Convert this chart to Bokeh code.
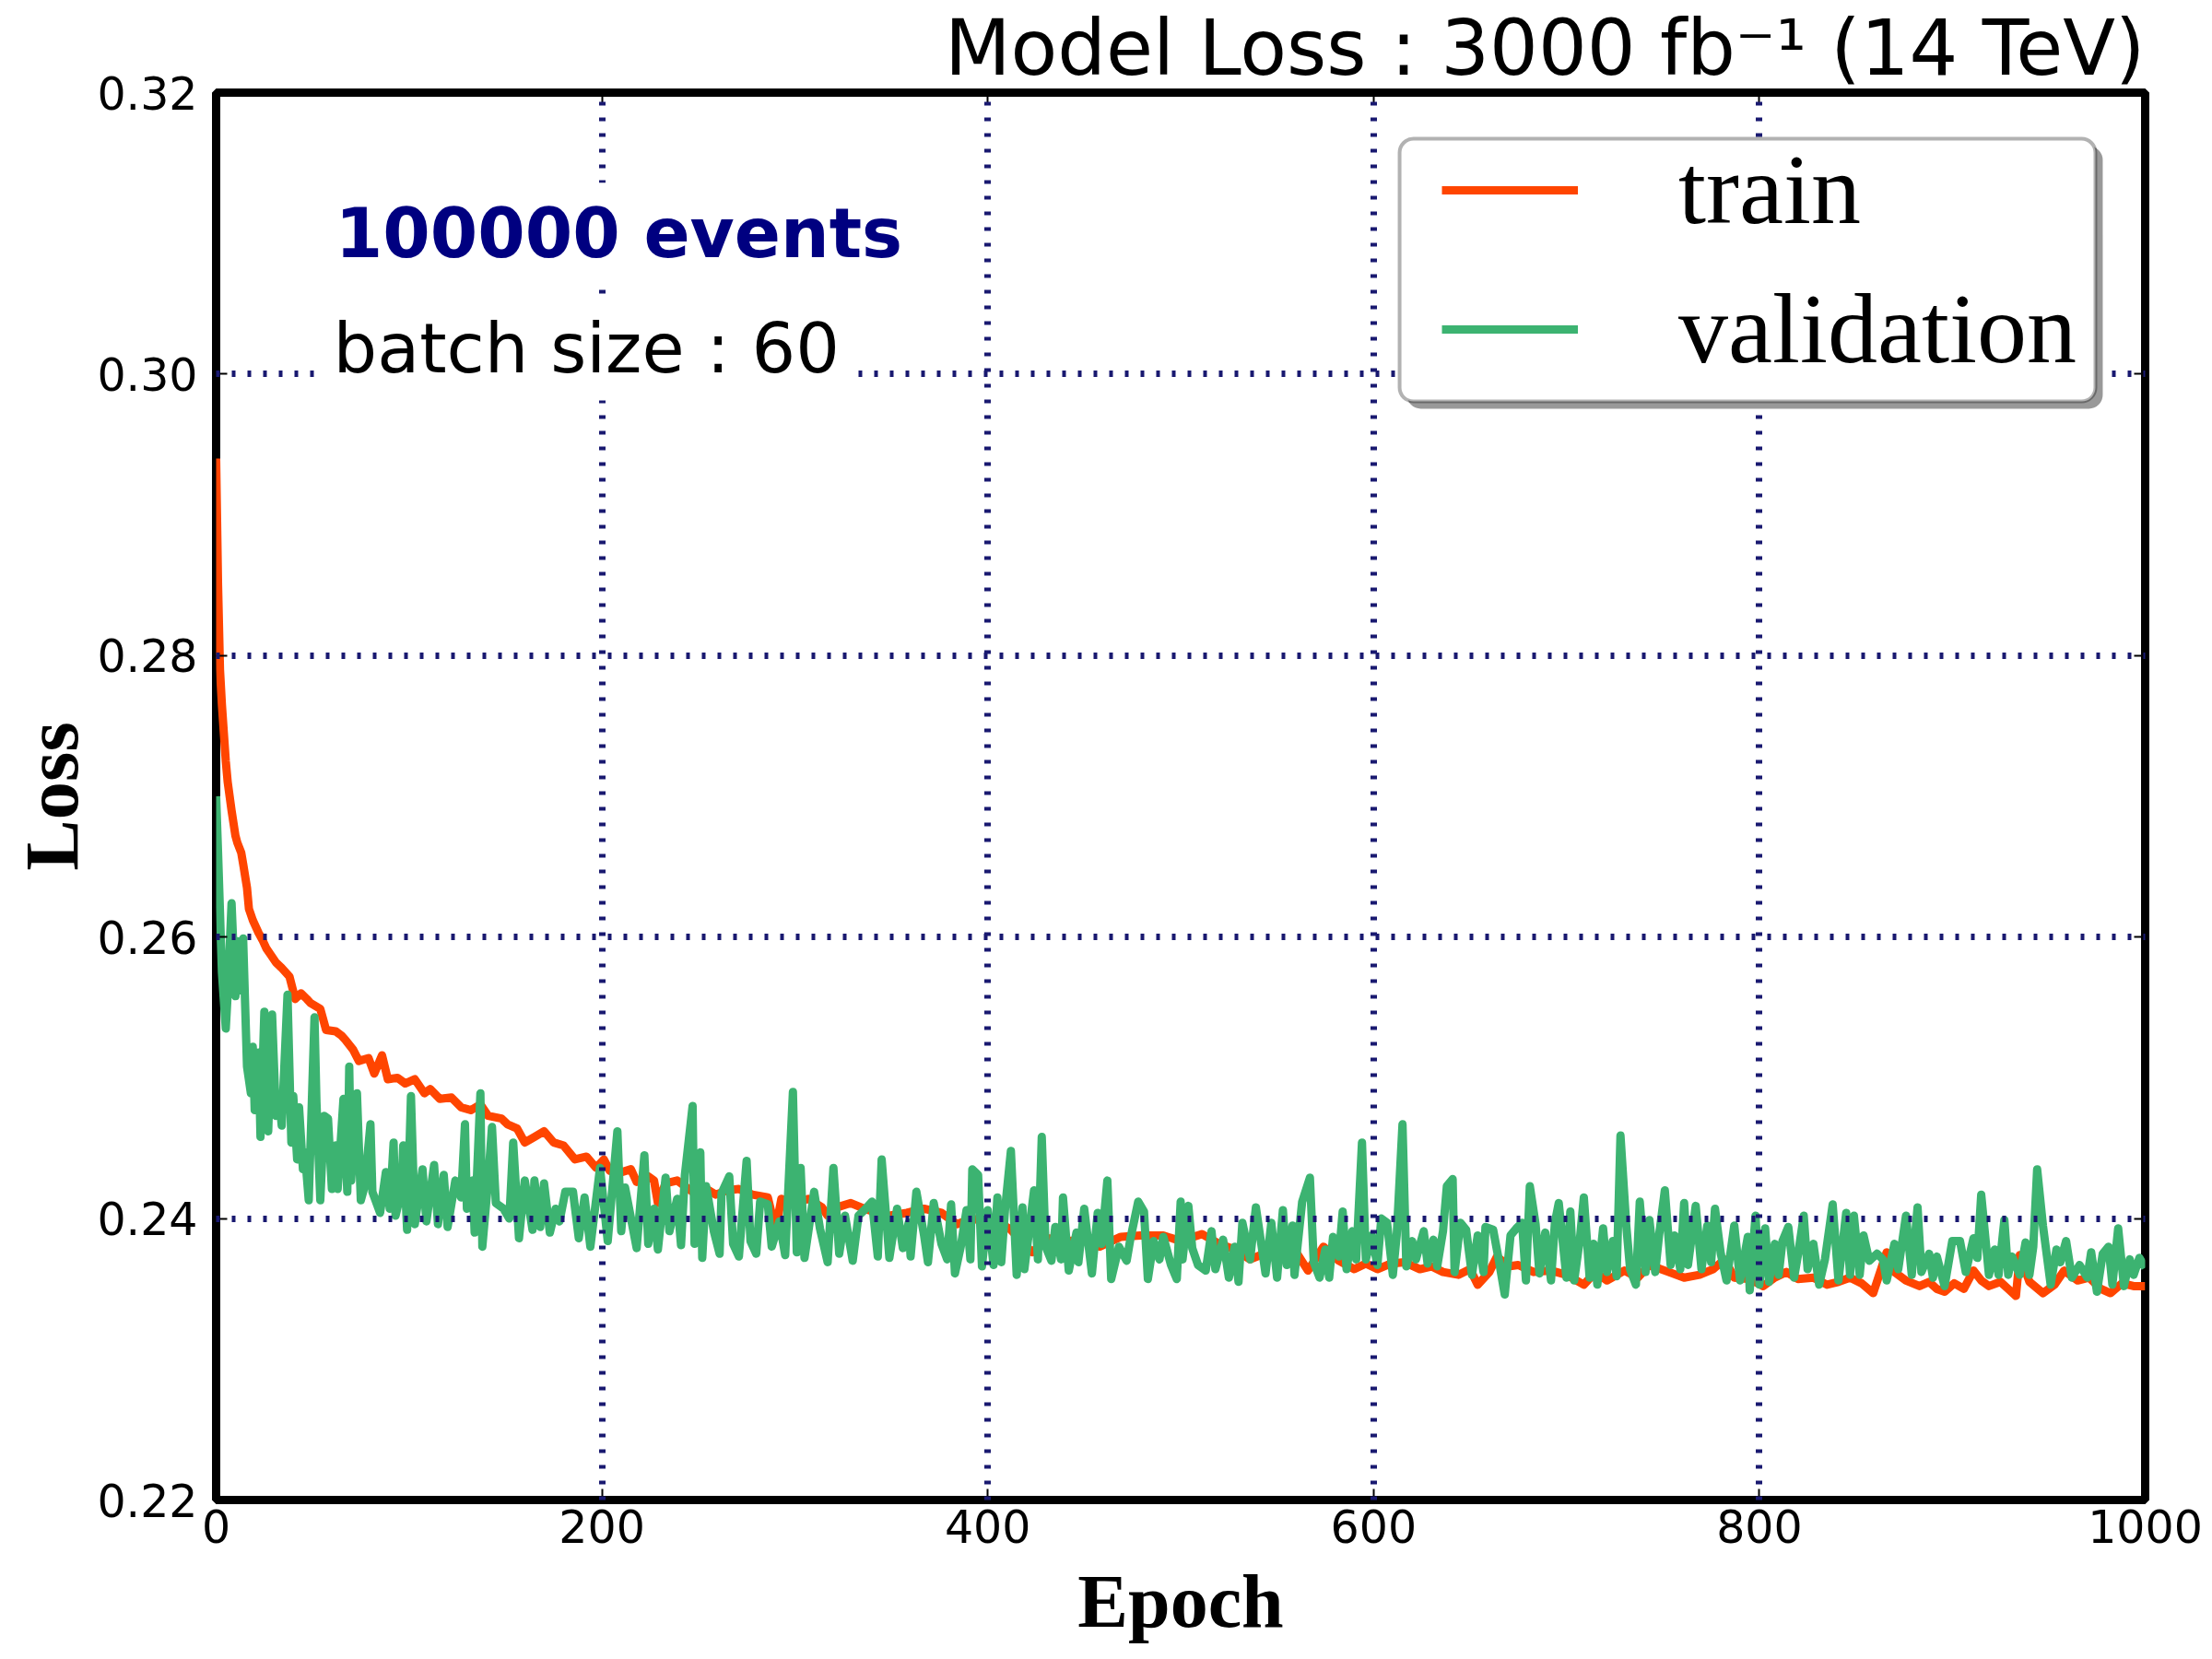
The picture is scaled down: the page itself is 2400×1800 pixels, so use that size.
from bokeh.plotting import figure
from bokeh.models import (FixedTicker, PrintfTickFormatter, LinearAxis, Label,
                          Legend, LegendItem, BoxAnnotation, CustomLabelingPolicy)
from bokeh.embed import file_html
from bokeh.resources import INLINE

# ---------------- data ----------------
train_epoch = [0, 1, 2, 3, 4, 5, 6, 8, 10, 11, 13, 14, 16, 17, 19, 22, 24, 26, 28, 31,
               34, 38, 41, 44, 47, 49, 54, 57, 62, 65, 67, 71, 74, 79, 82, 86, 89, 94, 98, 103,
               108, 111, 116, 122, 127, 132, 137, 141, 148, 151, 156, 160, 165, 170, 175, 180, 186, 192, 197, 201,
               204, 208, 215, 218, 224, 227, 229, 233, 239, 247, 253, 259, 265, 271, 278, 286, 290, 293, 300, 307,
               314, 317, 322, 329, 336, 343, 349, 358, 367, 376, 384, 392, 398, 404, 412, 423, 431, 442, 450, 458,
               469, 479, 491, 500, 511, 520, 528, 536, 545, 552, 559, 566, 574, 582, 590, 596, 602, 609, 616, 624,
               630, 636, 644, 650, 654, 660, 664, 670, 675, 683, 692, 700, 709, 715, 721, 730, 737, 743, 753, 761,
               769, 776, 782, 787, 795, 802, 808, 814, 820, 828, 835, 841, 847, 853, 859, 866, 870, 876, 883, 888,
               892, 896, 901, 906, 911, 915, 919, 925, 929, 933, 935, 940, 947, 953, 958, 965, 971, 977, 982, 988,
               994, 1000]
train_loss = [0.2940, 0.2850, 0.2790, 0.2765, 0.2745, 0.2725, 0.2710, 0.2690, 0.2672, 0.2667,
              0.2660, 0.2652, 0.2635, 0.2620, 0.2612, 0.2603, 0.2598, 0.2592, 0.2588, 0.2582,
              0.2578, 0.2572, 0.2556, 0.2560, 0.2556, 0.2553, 0.2549, 0.2534, 0.2533, 0.2530,
              0.2527, 0.2520, 0.2512, 0.2514, 0.2503, 0.2516, 0.2499, 0.2500, 0.2496, 0.2499,
              0.2489, 0.2492, 0.2485, 0.2486, 0.2479, 0.2477, 0.2481, 0.2473, 0.2471, 0.2467,
              0.2464, 0.2454, 0.2458, 0.2462, 0.2454, 0.2452, 0.2442, 0.2444, 0.2436, 0.2442,
              0.2434, 0.2432, 0.2435, 0.2426, 0.2430, 0.2427, 0.2411, 0.2425, 0.2427, 0.2419,
              0.2422, 0.2417, 0.2420, 0.2421, 0.2417, 0.2415, 0.2392, 0.2414, 0.2411, 0.2414,
              0.2408, 0.2402, 0.2408, 0.2411, 0.2407, 0.2404, 0.2402, 0.2404, 0.2407, 0.2404,
              0.2396, 0.2400, 0.2398, 0.2399, 0.2392, 0.2376, 0.2386, 0.2384, 0.2385, 0.2380,
              0.2387, 0.2388, 0.2388, 0.2384, 0.2389, 0.2382, 0.2378, 0.2371, 0.2376, 0.2374,
              0.2378, 0.2363, 0.2380, 0.2370, 0.2364, 0.2368, 0.2364, 0.2368, 0.2369, 0.2364,
              0.2366, 0.2362, 0.2360, 0.2364, 0.2353, 0.2362, 0.2373, 0.2366, 0.2367, 0.2362,
              0.2363, 0.2360, 0.2353, 0.2362, 0.2356, 0.2363, 0.2358, 0.2367, 0.2362, 0.2358,
              0.2360, 0.2364, 0.2371, 0.2358, 0.2357, 0.2352, 0.2358, 0.2362, 0.2357, 0.2358,
              0.2353, 0.2355, 0.2358, 0.2354, 0.2347, 0.2376, 0.2362, 0.2356, 0.2352, 0.2355,
              0.2350, 0.2348, 0.2354, 0.2350, 0.2363, 0.2356, 0.2352, 0.2355, 0.2350, 0.2345,
              0.2374, 0.2355, 0.2347, 0.2353, 0.2363, 0.2356, 0.2358, 0.2350, 0.2347, 0.2354,
              0.2352, 0.2352]

val_epoch = [0, 1, 3, 5, 6, 8, 10, 11, 13, 14, 16, 18, 19, 20, 22, 23, 25, 27, 29, 31,
             33, 34, 37, 39, 40, 42, 43, 45, 46, 48, 51, 52, 54, 56, 58, 60, 62, 63, 66, 68,
             69, 70, 73, 75, 77, 80, 81, 85, 88, 90, 92, 93, 96, 97, 99, 101, 103, 107, 109, 113,
             115, 118, 120, 124, 127, 129, 130, 133, 134, 137, 138, 141, 143, 145, 149, 152, 154, 157, 160, 164,
             165, 168, 170, 173, 176, 178, 181, 185, 188, 191, 194, 199, 203, 208, 210, 212, 218, 222, 224, 227,
             229, 233, 235, 239, 241, 243, 247, 248, 251, 252, 254, 258, 261, 262, 266, 268, 271, 275, 277, 280,
             282, 286, 288, 292, 295, 299, 301, 303, 305, 310, 313, 317, 320, 323, 326, 330, 333, 336, 340, 343,
             345, 349, 353, 356, 359, 360, 363, 367, 369, 372, 376, 379, 381, 383, 386, 389, 391, 392, 395, 397,
             400, 403, 405, 407, 409, 412, 415, 418, 419, 424, 426, 428, 430, 433, 435, 438, 439, 442, 446, 447,
             450, 454, 457, 459, 462, 464, 468, 472, 474, 478, 481, 483, 486, 489, 491, 495, 498, 500, 501, 504,
             506, 509, 513, 516, 518, 522, 525, 528, 530, 532, 536, 539, 542, 544, 547, 550, 553, 555, 558, 559,
             563, 567, 569, 572, 575, 577, 579, 582, 584, 586, 589, 591, 594, 596, 599, 602, 604, 607, 610, 612,
             615, 617, 620, 622, 626, 628, 631, 633, 636, 638, 641, 642, 645, 648, 651, 654, 657, 658, 662, 665,
             668, 671, 674, 677, 679, 681, 684, 686, 689, 692, 694, 696, 700, 702, 704, 707, 709, 712, 714, 716,
             719, 721, 724, 726, 728, 731, 733, 736, 738, 741, 743, 746, 748, 751, 754, 756, 759, 761, 763, 767,
             770, 773, 775, 777, 780, 783, 787, 790, 794, 795, 798, 800, 803, 805, 808, 810, 812, 815, 818, 820,
             823, 825, 828, 831, 834, 838, 841, 845, 847, 849, 852, 854, 857, 861, 864, 866, 870, 872, 876, 879,
             882, 884, 888, 890, 892, 896, 900, 904, 907, 911, 913, 915, 919, 922, 924, 927, 929, 931, 935, 938,
             940, 942, 944, 947, 951, 954, 956, 959, 962, 966, 970, 972, 975, 978, 981, 983, 986, 989, 992, 994,
             997, 1000]
val_loss = [0.2700, 0.2660, 0.2575, 0.2535, 0.2560, 0.2624, 0.2558, 0.2597, 0.2562, 0.2599,
            0.2508, 0.2489, 0.2522, 0.2477, 0.2518, 0.2458, 0.2547, 0.2462, 0.2545, 0.2473,
            0.2481, 0.2466, 0.2559, 0.2454, 0.2487, 0.2442, 0.2479, 0.2435, 0.2447, 0.2413,
            0.2543, 0.2483, 0.2413, 0.2473, 0.2471, 0.2421, 0.2452, 0.2421, 0.2485, 0.2419,
            0.2508, 0.2427, 0.2489, 0.2413, 0.2423, 0.2467, 0.2419, 0.2404, 0.2433, 0.2407,
            0.2454, 0.2402, 0.2419, 0.2452, 0.2392, 0.2487, 0.2396, 0.2435, 0.2398, 0.2438,
            0.2396, 0.2431, 0.2394, 0.2427, 0.2415, 0.2467, 0.2407, 0.2427, 0.2390, 0.2489,
            0.2380, 0.2427, 0.2465, 0.2411, 0.2407, 0.2400, 0.2454, 0.2386, 0.2427, 0.2392,
            0.2427, 0.2394, 0.2425, 0.2390, 0.2407, 0.2398, 0.2419, 0.2419, 0.2386, 0.2415,
            0.2380, 0.2436, 0.2384, 0.2462, 0.2391, 0.2422, 0.2379, 0.2445, 0.2382, 0.2407,
            0.2378, 0.2429, 0.2391, 0.2414, 0.2381, 0.2431, 0.2480, 0.2382, 0.2447, 0.2372,
            0.2423, 0.2391, 0.2375, 0.2418, 0.2430, 0.2382, 0.2373, 0.2441, 0.2384, 0.2375,
            0.2412, 0.2410, 0.2380, 0.2398, 0.2374, 0.2490, 0.2376, 0.2436, 0.2372, 0.2419,
            0.2393, 0.2369, 0.2436, 0.2375, 0.2402, 0.2370, 0.2402, 0.2406, 0.2412, 0.2373,
            0.2442, 0.2372, 0.2407, 0.2379, 0.2397, 0.2373, 0.2419, 0.2388, 0.2369, 0.2411,
            0.2382, 0.2371, 0.2410, 0.2361, 0.2380, 0.2406, 0.2371, 0.2435, 0.2431, 0.2366,
            0.2406, 0.2367, 0.2415, 0.2369, 0.2407, 0.2448, 0.2360, 0.2408, 0.2364, 0.2420,
            0.2371, 0.2458, 0.2380, 0.2370, 0.2394, 0.2371, 0.2415, 0.2363, 0.2390, 0.2369,
            0.2407, 0.2361, 0.2404, 0.2382, 0.2427, 0.2357, 0.2380, 0.2370, 0.2386, 0.2412,
            0.2405, 0.2357, 0.2384, 0.2371, 0.2387, 0.2367, 0.2357, 0.2412, 0.2371, 0.2409,
            0.2379, 0.2367, 0.2363, 0.2391, 0.2364, 0.2385, 0.2358, 0.2380, 0.2355, 0.2397,
            0.2371, 0.2408, 0.2380, 0.2361, 0.2397, 0.2358, 0.2406, 0.2367, 0.2395, 0.2360,
            0.2412, 0.2429, 0.2369, 0.2358, 0.2378, 0.2358, 0.2387, 0.2373, 0.2405, 0.2364,
            0.2391, 0.2371, 0.2454, 0.2371, 0.2388, 0.2367, 0.2400, 0.2397, 0.2360, 0.2388,
            0.2467, 0.2366, 0.2384, 0.2371, 0.2391, 0.2368, 0.2385, 0.2366, 0.2391, 0.2423,
            0.2428, 0.2362, 0.2397, 0.2392, 0.2360, 0.2388, 0.2362, 0.2394, 0.2392, 0.2370,
            0.2346, 0.2388, 0.2393, 0.2397, 0.2356, 0.2423, 0.2396, 0.2361, 0.2390, 0.2356,
            0.2397, 0.2411, 0.2358, 0.2405, 0.2356, 0.2386, 0.2415, 0.2358, 0.2382, 0.2353,
            0.2393, 0.2362, 0.2384, 0.2359, 0.2459, 0.2395, 0.2364, 0.2353, 0.2412, 0.2362,
            0.2399, 0.2362, 0.2388, 0.2420, 0.2367, 0.2388, 0.2364, 0.2411, 0.2367, 0.2409,
            0.2364, 0.2395, 0.2369, 0.2407, 0.2375, 0.2356, 0.2395, 0.2356, 0.2387, 0.2349,
            0.2402, 0.2353, 0.2393, 0.2355, 0.2382, 0.2360, 0.2384, 0.2394, 0.2358, 0.2374,
            0.2402, 0.2364, 0.2382, 0.2353, 0.2371, 0.2410, 0.2356, 0.2404, 0.2360, 0.2402,
            0.2360, 0.2388, 0.2370, 0.2375, 0.2371, 0.2356, 0.2382, 0.2364, 0.2402, 0.2360,
            0.2408, 0.2362, 0.2375, 0.2358, 0.2373, 0.2352, 0.2384, 0.2384, 0.2362, 0.2386,
            0.2372, 0.2417, 0.2360, 0.2378, 0.2360, 0.2399, 0.2360, 0.2373, 0.2360, 0.2383,
            0.2360, 0.2380, 0.2435, 0.2395, 0.2353, 0.2378, 0.2369, 0.2384, 0.2358, 0.2367,
            0.2358, 0.2376, 0.2348, 0.2375, 0.2380, 0.2353, 0.2393, 0.2352, 0.2371, 0.2360,
            0.2372, 0.2365]

x_ticks = [0, 200, 400, 600, 800, 1000]
y_ticks = [0.22, 0.24, 0.26, 0.28, 0.30, 0.32]
series_labels = ["train", "validation"]
series_colors = ["#FF4500", "#3CB371"]
title_text = "Model Loss : 3000 fb\u207b\u00b9 (14 TeV)"
note_bold = "100000 events"
note_plain = "batch size : 60"
x_label = "Epoch"
y_label = "Loss"

# ---------------- figure ----------------
p = figure(frame_width=2093, frame_height=1527,
           min_border_left=234, min_border_right=65,
           min_border_top=100, min_border_bottom=170,
           x_range=(0, 1000), y_range=(0.22, 0.32),
           output_backend="svg", toolbar_location=None,
           background_fill_color="white", border_fill_color="white")

p.outline_line_color = "black"
p.outline_line_width = 9

# title
p.title.text = title_text
p.title.align = "right"
p.title.text_font = "DejaVu Sans"
p.title.text_font_style = "normal"
p.title.text_font_size = "83px"
p.title.text_color = "black"
p.title.standoff = 0

tick_font = "DejaVu Sans"
hide_labels = CustomLabelingPolicy(
    code="for (let i = 0; i < indices.size; i++) { indices.unset(i) }\nreturn indices")


def style_axis(ax, ticks, show_labels, standoff):
    ax.ticker = FixedTicker(ticks=ticks)
    ax.axis_line_color = None
    ax.major_tick_in = 12
    ax.major_tick_out = 0
    ax.major_tick_line_width = 2
    ax.major_tick_line_color = "black"
    ax.minor_tick_line_color = None
    ax.major_label_text_font = tick_font
    ax.major_label_text_color = "black"
    if show_labels:
        ax.major_label_text_font_size = "49px"
        ax.major_label_standoff = standoff
    else:
        ax.major_label_text_font_size = "0px"
        ax.major_label_standoff = 0
        ax.major_label_policy = hide_labels


xa = p.xaxis[0]
ya = p.yaxis[0]
style_axis(xa, x_ticks, True, 10)
style_axis(ya, y_ticks, True, 20)
ya.formatter = PrintfTickFormatter(format="%.2f")

xa.axis_label = x_label
xa.axis_label_text_font = "Liberation Serif"
xa.axis_label_text_font_style = "bold"
xa.axis_label_text_font_size = "82px"
xa.axis_label_text_color = "black"
xa.axis_label_standoff = 15

ya.axis_label = y_label
ya.axis_label_text_font = "Liberation Serif"
ya.axis_label_text_font_style = "bold"
ya.axis_label_text_font_size = "83px"
ya.axis_label_text_color = "black"
ya.axis_label_standoff = 0

top_ax = LinearAxis()
style_axis(top_ax, x_ticks, False, 0)
p.add_layout(top_ax, "above")
right_ax = LinearAxis()
style_axis(right_ax, y_ticks, False, 0)
p.add_layout(right_ax, "right")

# grid (drawn over the curves, like the reference)
for g in (p.xgrid[0], p.ygrid[0]):
    g.grid_line_color = "#191970"
    g.grid_line_width = 7
    g.grid_line_dash = "4 13"
    g.level = "annotation"
p.xgrid[0].ticker = FixedTicker(ticks=x_ticks)
p.ygrid[0].ticker = FixedTicker(ticks=y_ticks)

# curves
r_train = p.line(train_epoch, train_loss, line_color=series_colors[0], line_width=9,
                 line_join="round")
r_val = p.line(val_epoch, val_loss, line_color=series_colors[1], line_width=9,
               line_join="round")

# annotation texts with white boxes
lab1 = Label(x=56, y=0.3100, text=note_bold, text_font="DejaVu Sans",
             text_font_style="bold", text_font_size="74px", text_color="#000080",
             text_baseline="alphabetic", background_fill_color="white",
             background_fill_alpha=1.0, padding=12)
lab2 = Label(x=55, y=0.3018, text=note_plain, text_font="DejaVu Sans",
             text_font_style="normal", text_font_size="75px", text_color="black",
             text_baseline="alphabetic", background_fill_color="white",
             background_fill_alpha=1.0, padding=12)
p.add_layout(lab1)
p.add_layout(lab2)

# legend frame: shadow + rounded box
shadow = BoxAnnotation(left=617.3, right=978.0, bottom=0.29754, top=0.31620,
                       fill_color="#999999", fill_alpha=1.0, line_color=None,
                       border_radius=15)
box = BoxAnnotation(left=613.5, right=974.2, bottom=0.29806, top=0.31672,
                    fill_color="white", fill_alpha=1.0, line_color="black",
                    line_width=4, border_radius=15)
p.add_layout(shadow)
p.add_layout(box)

legend = Legend(items=[LegendItem(label=series_labels[0], renderers=[r_train]),
                       LegendItem(label=series_labels[1], renderers=[r_val])],
                location=(1330, 1208), orientation="vertical",
                padding=0, margin=0, spacing=27,
                glyph_width=148, glyph_height=120, label_height=120,
                label_standoff=109,
                label_text_font="Liberation Serif", label_text_font_size="108px",
                label_text_color="black",
                background_fill_alpha=0.0, border_line_color=None)
p.add_layout(legend)

open("out.html", "w").write(file_html(p, INLINE))
